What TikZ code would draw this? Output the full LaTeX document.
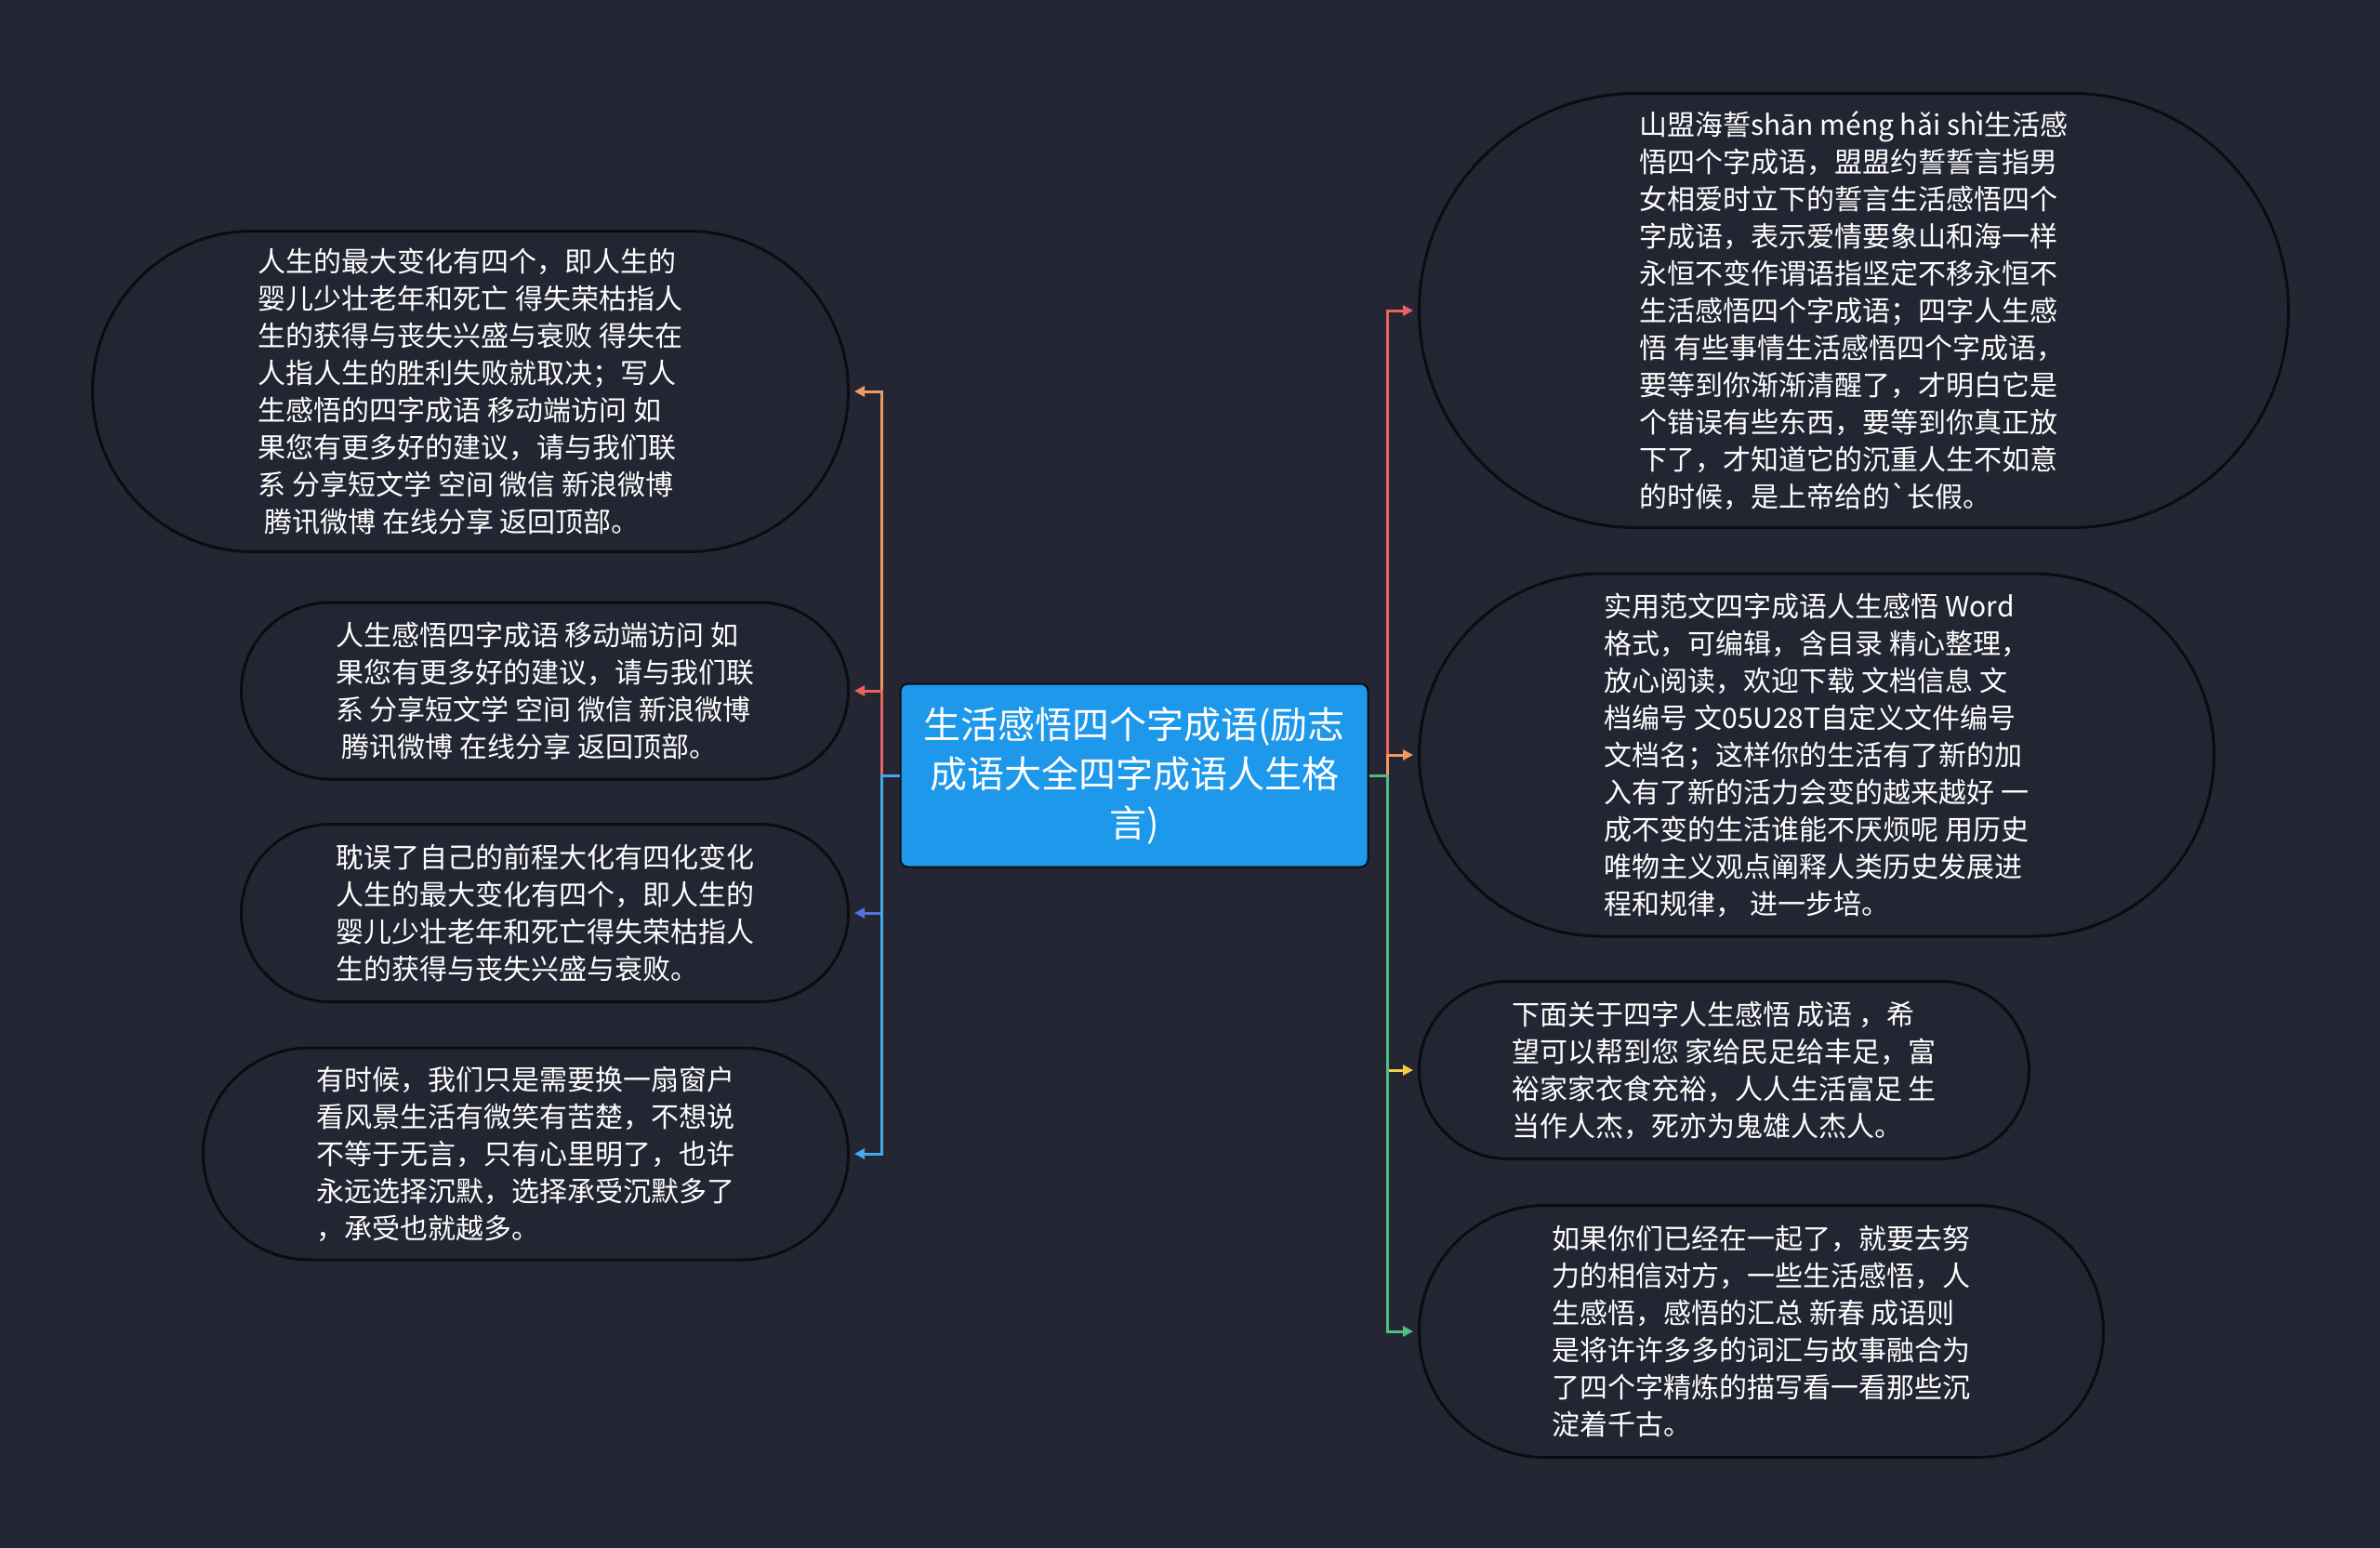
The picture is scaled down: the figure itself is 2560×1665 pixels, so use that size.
\documentclass[tikz,border=0pt]{standalone}
\usepackage{fontspec}
\setmainfont{Noto Sans CJK SC}
\usepackage{tikz}
\usetikzlibrary{arrows.meta, shapes.misc}

\definecolor{bgdark}{RGB}{36,39,51}
\definecolor{leaffill}{RGB}{35,38,50}
\definecolor{nodeline}{RGB}{12,12,16}
\definecolor{topicblue}{RGB}{29,152,234}
\definecolor{brorange}{RGB}{242,153,96}
\definecolor{brred}{RGB}{233,99,99}
\definecolor{brindigo}{RGB}{88,110,220}
\definecolor{brsky}{RGB}{64,170,235}
\definecolor{bryellow}{RGB}{246,204,68}
\definecolor{brgreen}{RGB}{80,190,130}

\begin{document}
\begin{tikzpicture}[x=0.5pt, y=-0.5pt,
        topic/.style={draw=nodeline, line width=1pt, fill=topicblue, rounded corners=4pt, text=white, align=center, minimum width=251.5pt, minimum height=98.5pt, font=\fontsize{20}{26.5}\selectfont},
        leaf/.style={rounded rectangle, draw=nodeline, line width=1.5pt, fill=leaffill, text=white, align=left, inner xsep=0pt, font=\fontsize{15}{20}\selectfont},
        branch/.style={line width=1.5pt, -{Triangle[length=5.5pt, width=5.5pt]}, shorten >=2.5pt}
    ]

    % background
    \fill[bgdark] (0,0) rectangle (2560,1665);
    \useasboundingbox (0,0) rectangle (2560,1665);

    % ================= Topic =================
    \node[topic] (topic) at (1220,834) {生活感悟四个字成语(励志\\成语大全四字成语人生格\\言)};

    \coordinate (trunk_l) at (948,834);
    \coordinate (trunk_r) at (1492,834);

    % ================= Left side =================
    \node[leaf, anchor=east, minimum width=406.5pt, minimum height=172.5pt] (left_a) at (914,421) {
        人生的最大变化有四个，即人生的\\
        婴儿少壮老年和死亡 得失荣枯指人\\
        生的获得与丧失兴盛与衰败 得失在\\
        人指人生的胜利失败就取决；写人\\
        生感悟的四字成语 移动端访问 如\\
        果您有更多好的建议，请与我们联\\
        系 分享短文学 空间 微信 新浪微博\\
        \ 腾讯微博 在线分享 返回顶部。
    };

    \node[leaf, anchor=east, minimum width=326.5pt, minimum height=95pt] (left_b) at (914,743) {
        人生感悟四字成语 移动端访问 如\\
        果您有更多好的建议，请与我们联\\
        系 分享短文学 空间 微信 新浪微博\\
        \ 腾讯微博 在线分享 返回顶部。
    };

    \node[leaf, anchor=east, minimum width=326.5pt, minimum height=95.5pt] (left_c) at (914,982) {
        耽误了自己的前程大化有四化变化\\
        人生的最大变化有四个，即人生的\\
        婴儿少壮老年和死亡得失荣枯指人\\
        生的获得与丧失兴盛与衰败。
    };

    \node[leaf, anchor=east, minimum width=347pt, minimum height=114pt] (left_d) at (914,1241) {
        有时候，我们只是需要换一扇窗户\\
        看风景生活有微笑有苦楚，不想说\\
        不等于无言，只有心里明了，也许\\
        永远选择沉默，选择承受沉默多了\\
        ，承受也就越多。
    };

    % ================= Right side =================
    \node[leaf, anchor=west, minimum width=467.5pt, minimum height=233.5pt] (right_a) at (1525,334) {
        山盟海誓shān méng hǎi shì生活感\\
        悟四个字成语，盟盟约誓誓言指男\\
        女相爱时立下的誓言生活感悟四个\\
        字成语，表示爱情要象山和海一样\\
        永恒不变作谓语指坚定不移永恒不\\
        生活感悟四个字成语；四字人生感\\
        悟 有些事情生活感悟四个字成语，\\
        要等到你渐渐清醒了，才明白它是\\
        个错误有些东西，要等到你真正放\\
        下了，才知道它的沉重人生不如意\\
        的时候，是上帝给的\textasciigrave 长假。
    };

    \node[leaf, anchor=west, minimum width=427.5pt, minimum height=195pt] (right_b) at (1525,812) {
        实用范文四字成语人生感悟 Word\\
        格式，可编辑，含目录 精心整理，\\
        放心阅读，欢迎下载 文档信息 文\\
        档编号 文05U28T自定义文件编号\\
        文档名；这样你的生活有了新的加\\
        入有了新的活力会变的越来越好 一\\
        成不变的生活谁能不厌烦呢 用历史\\
        唯物主义观点阐释人类历史发展进\\
        程和规律， 进一步培。
    };

    \node[leaf, anchor=west, minimum width=328pt, minimum height=95.5pt] (right_c) at (1525,1151) {
        下面关于四字人生感悟 成语 ，希\\
        望可以帮到您 家给民足给丰足，富\\
        裕家家衣食充裕，人人生活富足 生\\
        当作人杰，死亦为鬼雄人杰人。
    };

    \node[leaf, anchor=west, minimum width=368pt, minimum height=135.5pt] (right_d) at (1525,1432) {
        如果你们已经在一起了，就要去努\\
        力的相信对方，一些生活感悟，人\\
        生感悟，感悟的汇总 新春 成语则\\
        是将许许多多的词汇与故事融合为\\
        了四个字精炼的描写看一看那些沉\\
        淀着千古。
    };

    % ================= Branches =================
    \draw[branch, brorange] (topic.west) -- (trunk_l) |- (left_a.east);
    \draw[branch, brred] (topic.west) -- (trunk_l) |- (left_b.east);
    \draw[branch, brindigo] (topic.west) -- (trunk_l) |- (left_c.east);
    \draw[branch, brsky] (topic.west) -- (trunk_l) |- (left_d.east);

    \draw[branch, brred] (topic.east) -- (trunk_r) |- (right_a.west);
    \draw[branch, brorange] (topic.east) -- (trunk_r) |- (right_b.west);
    \draw[branch, bryellow] (topic.east) -- (trunk_r) |- (right_c.west);
    \draw[branch, brgreen] (topic.east) -- (trunk_r) |- (right_d.west);

\end{tikzpicture}
\end{document}
